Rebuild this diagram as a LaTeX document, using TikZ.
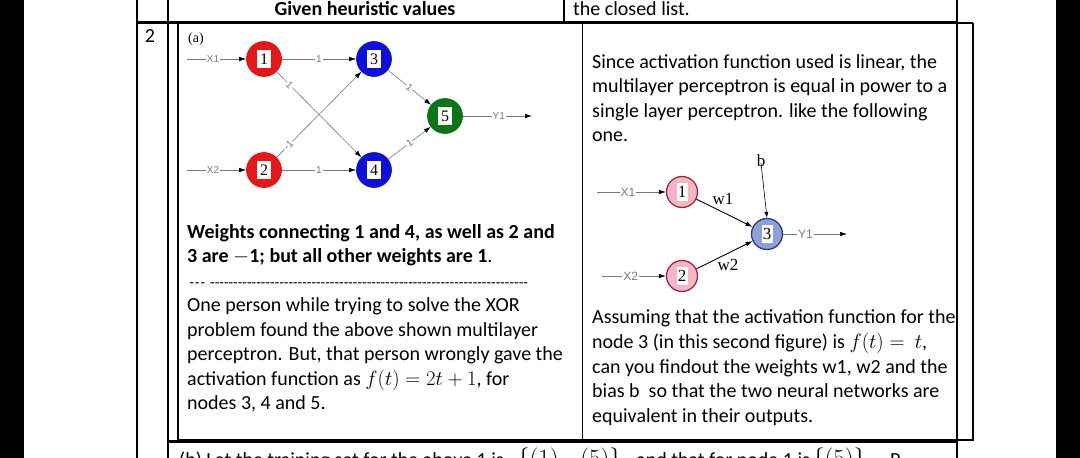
\documentclass[tikz,border=0pt]{standalone}
\usepackage{fontspec}
\setmainfont{Carlito}
\newfontfamily\timesf{Liberation Serif}
\newfontfamily\arialf{Liberation Sans}
\usetikzlibrary{arrows.meta}
\definecolor{nred}{RGB}{232,22,22}
\definecolor{nblue}{RGB}{14,14,222}
\definecolor{ngreen}{RGB}{12,118,22}
\definecolor{pinkf}{RGB}{244,182,196}
\definecolor{pinkd}{RGB}{150,32,55}
\definecolor{bluef}{RGB}{140,160,218}
\definecolor{blued}{RGB}{40,50,120}
\definecolor{egray}{RGB}{120,120,120}
\begin{document}
\begin{tikzpicture}[x=1pt,y=-1pt,
  body/.style={anchor=base west, inner sep=0, font=\fontsize{20}{24.4}\selectfont},
  bodyb/.style={anchor=base west, inner sep=0, font=\fontsize{20}{24.4}\selectfont\bfseries},
  rule/.style={line width=1.1pt},
  rulethick/.style={line width=2.2pt},
  neuron/.style={circle, minimum size=35pt, inner sep=0pt, line width=0.6pt},
  numbox/.style={fill=white, minimum width=14pt, minimum height=18pt, inner sep=0pt, font=\timesf\fontsize{16}{16}\selectfont},
  numboxs/.style={fill=white, minimum width=11pt, minimum height=18pt, inner sep=0pt, font=\timesf\fontsize{17}{17}\selectfont},
  wlab/.style={font=\arialf\fontsize{10}{10}\selectfont, text=egray, fill=white, inner sep=1pt},
  wlabs/.style={font=\arialf\fontsize{12}{12}\selectfont, text=egray, fill=white, inner sep=1pt},
  gedge/.style={draw=egray, line width=0.6pt, -{Latex[length=7pt,width=4.5pt,color=black]}},
  bedge/.style={draw=black, line width=0.9pt, -{Latex[length=7pt,width=5pt]}},
  pinkn/.style={circle, minimum size=31pt, inner sep=0pt, draw=pinkd, line width=1.2pt, fill=pinkf},
  bluen/.style={circle, minimum size=31pt, inner sep=0pt, draw=blued, line width=1.2pt, fill=bluef},
  serl/.style={font=\timesf\fontsize{17}{17}\selectfont, inner sep=0pt}
]
\useasboundingbox (0,0) rectangle (1080,458);
\clip (0,0) rectangle (1080,458);
\fill[white] (0,0) rectangle (1080,458);
% black side bars
\fill[black] (0,0) rectangle (24,458);
\fill[black] (1056,0) rectangle (1080,458);
% table rules
\draw[rule] (137,0) -- (137,458);
\draw[rule] (168,0) -- (168,458);
\draw[rule] (564,0) -- (564,22.5);
\draw[rule] (957,0) -- (957,458);
\draw[rulethick] (137,22.5) -- (957,22.5);
\draw[rule] (957,23) -- (973,23);
\draw[rule] (178,23) -- (178,440) -- (973,440) -- (973,23);
\draw[rule] (582.5,23) -- (582.5,440);
\draw[rulethick] (168,441.5) -- (957,441.5);
% header texts
\node[bodyb, anchor=base] (hdr1) at (365,15) {Given heuristic values};
\node[body] (hdr2) at (573,15) {the closed list.};
\node[body, anchor=base] (rownum) at (150,42) {2};
% ---- network (a)
\node[font=\timesf\fontsize{14}{14}\selectfont, inner sep=0pt] (lbla) at (196,39) {(a)};
\node[neuron, fill=nred, draw=nred!80!black] (n1) at (264,59) {};
\node[numbox] (t1) at (n1) {1};
\node[neuron, fill=nred, draw=nred!80!black] (n2) at (264,170) {};
\node[numbox] (t2) at (n2) {2};
\node[neuron, fill=nblue, draw=nblue!80!black] (n3) at (374,59) {};
\node[numbox] (t3) at (n3) {3};
\node[neuron, fill=nblue, draw=nblue!80!black] (n4) at (374,170) {};
\node[numbox] (t4) at (n4) {4};
\node[neuron, fill=ngreen, draw=ngreen!80!black] (n5) at (445,116) {};
\node[numbox] (t5) at (n5) {5};
\coordinate (x1a) at (187,59);
\coordinate (x2a) at (187,170);
\coordinate (y1a) at (532,116);
\draw[gedge] (x1a) -- node[wlab, pos=0.44] {X1} (n1);
\draw[gedge] (x2a) -- node[wlab, pos=0.44] {X2} (n2);
\draw[gedge] (n5) -- node[wlab, pos=0.52] {Y1} (y1a);
\draw[gedge] (n1) -- node[wlab] {1} (n3);
\draw[gedge] (n2) -- node[wlab] {1} (n4);
\draw[gedge] (n1) -- node[wlab, sloped, pos=0.14] {-1} (n4);
\draw[gedge] (n2) -- node[wlab, sloped, pos=0.14] {-1} (n3);
\draw[gedge] (n3) -- node[wlab, sloped] {1} (n5);
\draw[gedge] (n4) -- node[wlab, sloped] {1} (n5);
% left texts
\node[bodyb] (bl1) at (187,238) {Weights connecting 1 and 4, as well as 2 and};
\node[bodyb] (bl2) at (187,262) {3 are $-\mathbf{1}$; but all other weights are $\mathbf{1}$\mdseries.};
\node[body, font=\fontsize{15}{15}\selectfont] (dash) at (188,287) {\hbox to 18pt{\xleaders\hbox{-}\hfill}\hspace{4pt}\hbox to 318pt{\xleaders\hbox{-}\hfill}};
\node[body] (lp1) at (187,311.7) {One person while trying to solve the XOR};
\node[body] (lp2) at (187,336) {problem found the above shown multilayer};
\node[body] (lp3) at (187,360.7) {perceptron. But, that person wrongly gave the};
\node[body] (lp4) at (187,385) {activation function as $f(t) = 2t + 1$, for};
\node[body] (lp5) at (187,409.3) {nodes 3, 4 and 5.};
% right texts
\node[body] (rp1) at (592,68) {Since activation function used is linear, the};
\node[body] (rp2) at (592,92.5) {multilayer perceptron is equal in power to a};
\node[body] (rp3) at (592,117) {single layer perceptron. like the following};
\node[body] (rp4) at (592,141.5) {one.};
\node[body] (rq1) at (592,323.3) {Assuming that the activation function for the};
\node[body] (rq2) at (592,348.3) {node 3 (in this second figure) is $f(t) =\ t$,};
\node[body] (rq3) at (592,373.3) {can you findout the weights w1, w2 and the};
\node[body] (rq4) at (592,397.7) {bias b\ \ so that the two neural networks are};
\node[body] (rq5) at (592,422.3) {equivalent in their outputs.};
% ---- network (b)
\node[pinkn] (m1) at (682,192) {};
\node[numboxs] (u1) at (m1) {1};
\node[pinkn] (m2) at (682,276) {};
\node[numboxs] (u2) at (m2) {2};
\node[bluen] (m3) at (767,234) {};
\node[numboxs] (u3) at (m3) {3};
\coordinate (x1b) at (597,192);
\coordinate (x2b) at (602,276);
\coordinate (y1b) at (847,234);
\draw[gedge] (x1b) -- node[wlabs, pos=0.45] {X1} (m1);
\draw[gedge] (x2b) -- node[wlabs, pos=0.45] {X2} (m2);
\draw[gedge] (m3) -- node[wlabs, pos=0.35] {Y1} (y1b);
\draw[bedge] (m1) -- (m3);
\draw[bedge] (m2) -- (m3);
\node[serl] (w1) at (723,199) {w1};
\node[serl] (w2) at (728,265) {w2};
\node[serl] (bb) at (761,161) {b};
\draw[draw=black, line width=0.6pt, -{Latex[length=6pt,width=4pt]}] ([yshift=4pt]bb.south) -- (m3.north);
% bottom (cut) row
\node[body] (bt1) at (179,466) {(b) Let the training set for the above 1 is};
\node[body, font=\fontsize{24}{24}\selectfont] (bt2) at (517,466) {$\{(1),\ \ (5)\}$};
\node[body] (bt3) at (636,466) {and that for node 1 is};
\node[body, font=\fontsize{24}{24}\selectfont] (bt4) at (812,466) {$\{(5)\}$};
\node[body] (bt5) at (890,466) {P};
\end{tikzpicture}
\end{document}
